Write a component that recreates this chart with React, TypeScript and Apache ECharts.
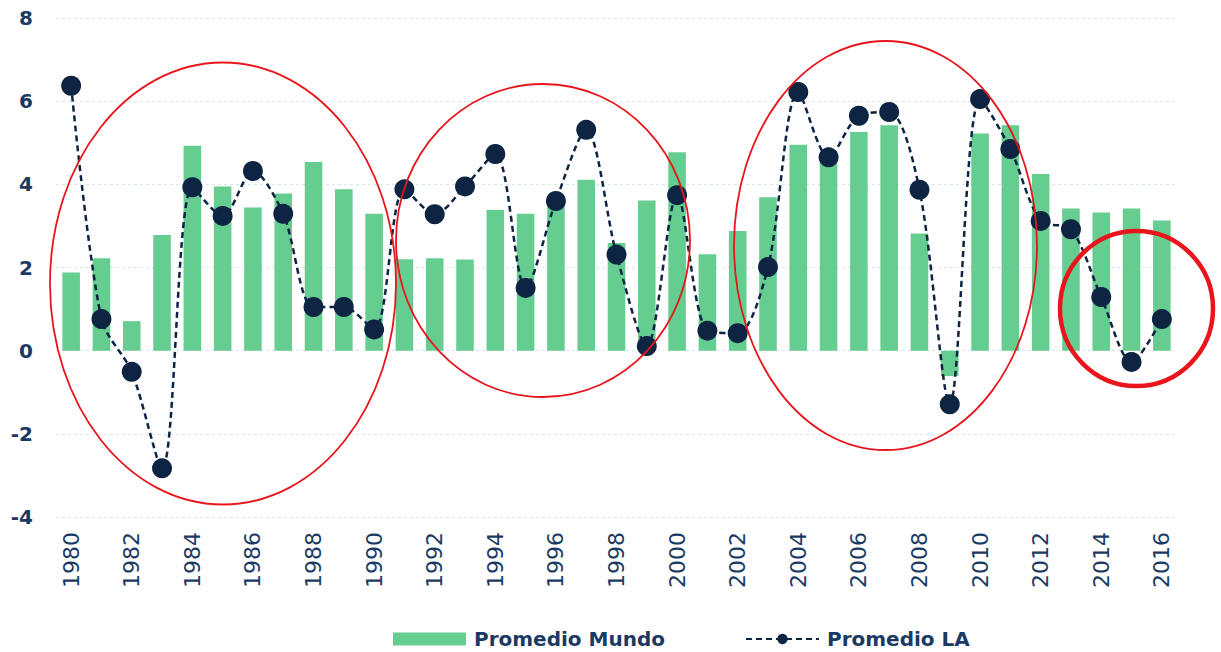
import React, { useEffect, useRef } from "react";
import * as echarts from "echarts";

const years = [
  "1980", "1981", "1982", "1983", "1984", "1985", "1986", "1987", "1988", "1989",
  "1990", "1991", "1992", "1993", "1994", "1995", "1996", "1997", "1998", "1999",
  "2000", "2001", "2002", "2003", "2004", "2005", "2006", "2007", "2008", "2009",
  "2010", "2011", "2012", "2013", "2014", "2015", "2016",
];

const promedioMundo = [
  1.88, 2.22, 0.71, 2.78, 4.93, 3.95, 3.44, 3.78, 4.54, 3.88,
  3.29, 2.2, 2.22, 2.19, 3.38, 3.29, 3.5, 4.11, 2.59, 3.61,
  4.77, 2.32, 2.88, 3.69, 4.95, 4.6, 5.26, 5.42, 2.82, -0.61,
  5.22, 5.42, 4.25, 3.42, 3.32, 3.42, 3.13,
];

const promedioLA = [
  6.37, 0.76, -0.51, -2.83, 3.93, 3.24, 4.32, 3.29, 1.05, 1.05,
  0.51, 3.88, 3.28, 3.95, 4.73, 1.51, 3.6, 5.31, 2.31, 0.11,
  3.74, 0.48, 0.42, 2.01, 6.22, 4.65, 5.65, 5.74, 3.87, -1.29,
  6.05, 4.85, 3.12, 2.92, 1.29, -0.27, 0.76,
];

const yTicks = [-4, -2, 0, 2, 4, 6, 8];
const seriesNames = ["Promedio Mundo", "Promedio LA"];

const TEXT = "#1B3A63";
const GREEN = "#66CD91";
const NAVY = "#0E2443";
const RED = "#E8161C";

export default function App() {
  const ref = useRef<HTMLDivElement>(null);

  useEffect(() => {
    if (!ref.current) return;
    const chart = echarts.init(ref.current, null, { renderer: "svg" });
    const option = {
      animation: false,
      backgroundColor: "#ffffff",
      grid: { left: 56, right: 44, top: 18, bottom: 135, containLabel: false },
      legend: {
        left: 393,
        top: 628,
        padding: 0,
        itemWidth: 73,
        itemHeight: 13,
        itemGap: 80,
        textStyle: {
          color: TEXT,
          fontFamily: "DejaVu Sans",
          fontWeight: "bold",
          fontSize: 20,
          lineHeight: 22,
          padding: [0, 0, 0, 3],
        },
        data: [
          { name: seriesNames[0], icon: "rect" },
          { name: seriesNames[1] },
        ],
      },
      xAxis: {
        type: "category",
        data: years,
        axisLine: { show: false },
        axisTick: { show: false },
        axisLabel: {
          rotate: 90,
          interval: 1,
          margin: 15,
          color: TEXT,
          fontFamily: "DejaVu Sans",
          fontSize: 22,
        },
      },
      yAxis: {
        type: "value",
        min: yTicks[0],
        max: yTicks[yTicks.length - 1],
        interval: yTicks[1] - yTicks[0],
        axisLine: { show: false },
        axisTick: { show: false },
        axisLabel: {
          margin: 23,
          color: TEXT,
          fontFamily: "DejaVu Sans",
          fontWeight: "bold",
          fontSize: 20,
        },
        splitLine: {
          lineStyle: { color: "#D3E7ED", width: 1, type: [3, 3] },
        },
      },
      series: [
        {
          name: seriesNames[0],
          type: "bar",
          data: promedioMundo,
          barCategoryGap: "42%",
          itemStyle: { color: GREEN },
          z: 2,
        },
        {
          name: seriesNames[1],
          type: "line",
          data: promedioLA,
          smooth: 0.3,
          symbol: "circle",
          symbolSize: 20,
          itemStyle: { color: NAVY },
          lineStyle: { color: NAVY, width: 2.5, type: [6, 4] },
          z: 3,
        },
      ],
      graphic: [
        {
          type: "ellipse",
          shape: { cx: 223, cy: 283.5, rx: 173, ry: 221 },
          style: { fill: "none", stroke: RED, lineWidth: 1.8 },
          z: 10,
        },
        {
          type: "ellipse",
          shape: { cx: 543, cy: 240.5, rx: 147, ry: 156.5 },
          style: { fill: "none", stroke: RED, lineWidth: 1.8 },
          z: 10,
        },
        {
          type: "ellipse",
          shape: { cx: 885.5, cy: 245.5, rx: 151.5, ry: 204.5 },
          style: { fill: "none", stroke: RED, lineWidth: 1.8 },
          z: 10,
        },
        {
          type: "ellipse",
          shape: { cx: 1136.5, cy: 308.5, rx: 76.5, ry: 77.5 },
          style: { fill: "none", stroke: RED, lineWidth: 4.5 },
          z: 10,
        },
      ],
    };
    chart.setOption(option);
    return () => chart.dispose();
  }, []);

  return (
    <div
      ref={ref}
      style={{ position: "absolute", left: 0, top: 0, width: 1221, height: 652 }}
    />
  );
}
